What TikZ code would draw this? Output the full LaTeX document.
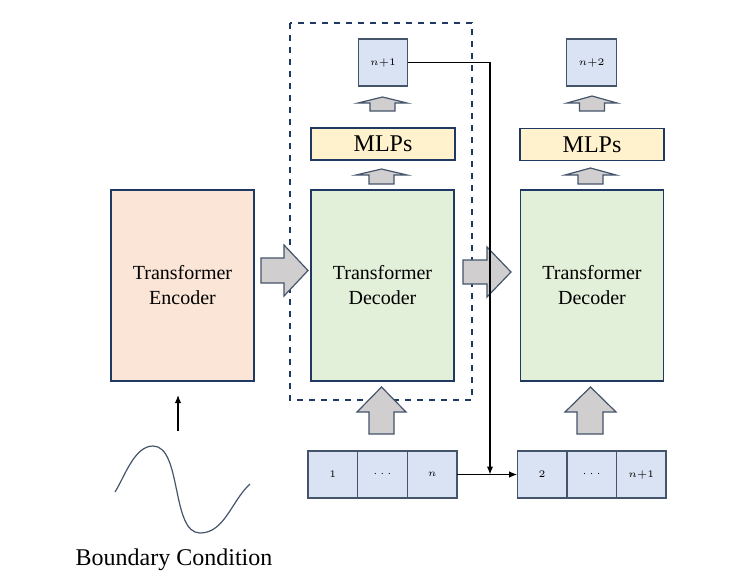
\documentclass[tikz,border=0pt]{standalone}
\usepackage{fontspec}
\setmainfont{Liberation Serif}
\usetikzlibrary{arrows.meta}
\definecolor{navy}{HTML}{203864}
\definecolor{slate}{HTML}{44546A}
\definecolor{encfill}{HTML}{FBE5D6}
\definecolor{decfill}{HTML}{E2F0D9}
\definecolor{mlpfill}{HTML}{FFF2CC}
\definecolor{tokfill}{HTML}{DAE3F3}
\definecolor{arrgrey}{HTML}{D0CECE}
\begin{document}
\begin{tikzpicture}[x=0.5pt, y=-0.5pt,
		every node/.style={inner sep=0pt, outer sep=0pt},
		blk/.style={rectangle, draw=navy, line width=0.6pt, align=center, font=\fontsize{10}{12.5}\selectfont, minimum width=71.5pt, minimum height=95.5pt},
		mlp/.style={blk, fill=mlpfill, minimum width=72pt, minimum height=16pt, font=\fontsize{12}{14}\selectfont},
		tok/.style={rectangle, draw=slate, fill=tokfill, line width=0.6pt, minimum width=24.8pt, minimum height=23.5pt, font=\fontsize{5.5}{6.5}\selectfont},
		fat/.style={draw=slate, fill=arrgrey, line width=0.6pt},
		tip/.style={-{Latex[length=4pt, width=3.2pt]}, line width=0.6pt}]
	\useasboundingbox (0,0) rectangle (742,575);

	\node[blk, fill=encfill] (enc) at (182.5, 285.5) {Transformer\\Encoder};
	\node[blk, fill=decfill] (dec1) at (382.5, 285.5) {Transformer\\Decoder};
	\node[blk, fill=decfill] (dec2) at (592, 285.5) {Transformer\\Decoder};
	\node[mlp] (mlp1) at (383, 144) {MLPs};
	\node[mlp] (mlp2) at (592, 144.5) {MLPs};
	\node[tok] (out1) at (383, 62.5) {$n{+}1$};
	\node[tok] (out2) at (591.5, 62.5) {$n{+}2$};

	\node[tok] (ina) at (332.8, 474.5) {$1$};
	\node[tok] (inb) at (382.5, 474.5) {$\cdots$};
	\node[tok] (inc) at (432.2, 474.5) {$n$};
	\node[tok] (nxa) at (542, 474.5) {$2$};
	\node[tok] (nxb) at (591.7, 474.5) {$\cdots$};
	\node[tok] (nxc) at (641.2, 474.5) {$n{+}1$};

	\draw[navy, dashed, line width=0.6pt] (290,23) rectangle (472,400);

	% block arrows
	\draw[fat] (382.5,97) -- (407,103) -- (395,103) -- (395,111) -- (370,111) -- (370,103) -- (358,103) -- cycle;
	\draw[fat] (592,96) -- (617,103) -- (604.5,103) -- (604.5,111) -- (579.5,111) -- (579.5,103) -- (567,103) -- cycle;
	\draw[fat] (381.5,169) -- (407,175) -- (394,175) -- (394,184) -- (369,184) -- (369,175) -- (356,175) -- cycle;
	\draw[fat] (590.5,168) -- (616,175) -- (603,175) -- (603,184) -- (578,184) -- (578,175) -- (565,175) -- cycle;
	\draw[fat] (381.5,387) -- (406,412) -- (394,412) -- (394,434) -- (369,434) -- (369,412) -- (357,412) -- cycle;
	\draw[fat] (590.5,387) -- (616,412) -- (603,412) -- (603,434) -- (577,434) -- (577,412) -- (565,412) -- cycle;
	\draw[fat] (308,270.5) -- (284,296) -- (284,283) -- (261,283) -- (261,258) -- (284,258) -- (284,245) -- cycle;
	\draw[fat] (511,272) -- (487,297) -- (487,284) -- (463,284) -- (463,260) -- (487,260) -- (487,247) -- cycle;

	\coordinate (jn) at (490, 474.5);
	\draw[tip] (out1.east) -| (jn);
	\draw[tip] (inc.east) -- (nxa.west);

	\coordinate (bcfoot) at (178, 431);
	\coordinate (bchead) at (178, 395);
	\draw[tip] (bcfoot) -- (bchead);

	\draw[slate, line width=0.6pt] (115,492) to[out=58, in=180, looseness=0.8] (153,446)
		to[out=0, in=180, looseness=0.75] (200,533) to[out=0, in=-138, looseness=0.9] (250,484);
	\node[font=\fontsize{12}{14}\selectfont] (bc) at (174, 560) {Boundary Condition};
\end{tikzpicture}
\end{document}
